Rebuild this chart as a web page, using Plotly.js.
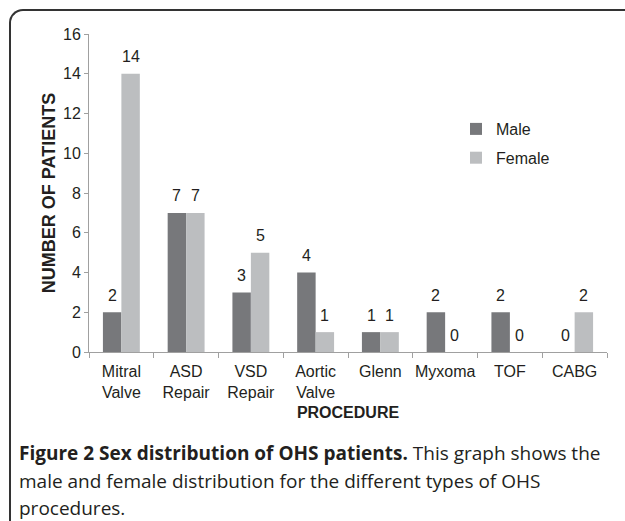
<!DOCTYPE html>
<html>
<head>
<meta charset="utf-8">
<script src="https://cdn.plot.ly/plotly-3.0.1.min.js"></script>
<style>
  html, body { margin: 0; padding: 0; background: #fff; }
  #wrap { position: relative; width: 625px; height: 521px; overflow: hidden; }
  #chart { position: absolute; left: 0; top: 0; width: 625px; height: 521px; }
  #frame { position: absolute; left: 9px; top: 9px; width: 640px; height: 540px;
           border-left: 2px solid #333; border-top: 2px solid #333;
           border-top-left-radius: 14px; pointer-events: none; }
</style>
</head>
<body>
<div id="wrap">
  <div id="chart"></div>
  <div id="frame"></div>
</div>
<script>
const categories = ["Mitral<br>Valve", "ASD<br>Repair", "VSD<br>Repair", "Aortic<br>Valve", "Glenn", "Myxoma", "TOF", "CABG"];
const maleValues = [2, 7, 3, 4, 1, 2, 2, 0];
const femaleValues = [14, 7, 5, 1, 1, 0, 0, 2];
const seriesNames = ["Male", "Female"];
const yTicks = [0, 2, 4, 6, 8, 10, 12, 14, 16];
const captionLines = [
  "<b>Figure 2 Sex distribution of OHS patients.</b> This graph shows the",
  "male and female distribution for the different types of OHS",
  "procedures."
];

const textColor = "#231f20";
const maleColor = "#77787b";
const femaleColor = "#bcbec0";
const sansFamily = "Liberation Sans";
const axisFont = { family: sansFamily, size: 16, color: textColor };

const W = 625, H = 521;
const m = { l: 89, r: 18, t: 34, b: 169 };
const plotW = W - m.l - m.r, plotH = H - m.t - m.b;
const px2paperX = px => (px - m.l) / plotW;
const px2paperY = py => (H - m.b - py) / plotH;

const traces = [
  { type: "bar", name: seriesNames[0], x: categories, y: maleValues,
    marker: { color: maleColor }, legendgroup: "m", hoverinfo: "none" },
  { type: "bar", name: seriesNames[1], x: categories, y: femaleValues,
    marker: { color: femaleColor }, legendgroup: "f", hoverinfo: "none" }
];

const annotations = [];
const barHalfOffset = 9.3;
categories.forEach((c, i) => {
  annotations.push({ x: c, y: maleValues[i], xref: "x", yref: "y", text: String(maleValues[i]),
    showarrow: false, xshift: -barHalfOffset, yshift: 17, yanchor: "middle", font: axisFont });
  annotations.push({ x: c, y: femaleValues[i], xref: "x", yref: "y", text: String(femaleValues[i]),
    showarrow: false, xshift: barHalfOffset, yshift: 17, yanchor: "middle", font: axisFont });
});
const captionY = [453, 481, 508];
captionLines.forEach((t, i) => {
  annotations.push({
    xref: "paper", yref: "paper", x: px2paperX(17), y: px2paperY(captionY[i]),
    xanchor: "left", yanchor: "middle", align: "left", showarrow: false,
    text: t, font: { family: "Open Sans", size: 19, color: textColor }
  });
});

const layout = {
  width: W, height: H,
  margin: m,
  paper_bgcolor: "#fff", plot_bgcolor: "#fff",
  barmode: "group", bargap: 0.43, bargroupgap: 0,
  font: axisFont,
  xaxis: {
    type: "category",
    showline: true, linecolor: "#a0a0a0", linewidth: 1,
    ticks: "outside", ticklen: 5, tickcolor: "#a0a0a0", tickson: "boundaries",
    tickangle: 0, automargin: false, ticklabelstandoff: 5,
    showgrid: false, zeroline: false,
    tickfont: axisFont,
    title: { text: "<b>PROCEDURE</b>", font: { family: sansFamily, size: 16, color: textColor }, standoff: 6 }
  },
  yaxis: {
    range: [0, 16], tickvals: yTicks,
    showline: true, linecolor: "#a0a0a0", linewidth: 1,
    ticks: "outside", ticklen: 4, tickcolor: "#a0a0a0",
    showgrid: false, zeroline: false, automargin: false,
    tickfont: axisFont,
    title: { text: "<b>NUMBER OF PATIENTS</b>", font: { family: sansFamily, size: 18, color: textColor }, standoff: 2 }
  },
  legend: {
    x: px2paperX(456), y: px2paperY(112), xanchor: "left", yanchor: "top",
    bgcolor: "rgba(0,0,0,0)", font: axisFont,
    traceorder: "grouped", tracegroupgap: 5, itemwidth: 30
  },
  annotations: annotations
};

Plotly.newPlot("chart", traces, layout, { staticPlot: true, displayModeBar: false });
</script>
</body>
</html>
